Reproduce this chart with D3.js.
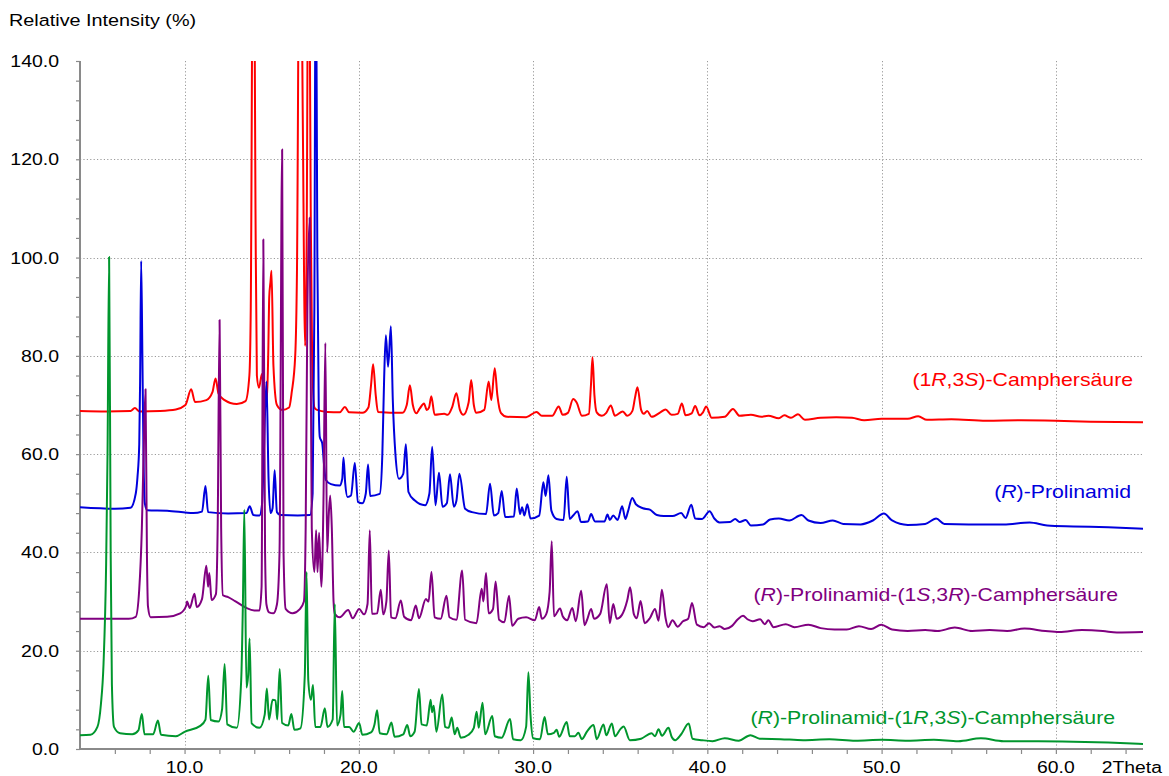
<!DOCTYPE html>
<html>
<head>
<meta charset="utf-8">
<script src="https://cdn.jsdelivr.net/npm/d3@7"></script>
<style>
  body { margin: 0; background: #fff; }
  svg { display: block; font-family: Arial, "Liberation Sans", sans-serif; }
</style>
</head>
<body>
<svg id="chart" width="1169" height="776"></svg>
<script>
// Axis ticks
const xMajorTicks = [10, 20, 30, 40, 50, 60];
const yMajorTicks = [0, 20, 40, 60, 80, 100, 120, 140];
const yGridTicks = [20, 40, 60, 80, 100, 120];

// Powder diffraction patterns, [2Theta, relative intensity %]
const camphorAcid = [
  [4.0, 68.8], [5.5, 68.7], [6.9, 68.8], [7.15, 69.4], [7.4, 68.7], [8.6, 68.8], [9.5, 69.1],
  [10.05, 70.0], [10.38, 73.2], [10.6, 70.6], [11.25, 71.0], [11.6, 72.6], [11.78, 75.4],
  [11.95, 72.3], [12.25, 71.1], [13.0, 70.2], [13.5, 70.8], [13.72, 76], [13.8, 90],
  [13.95, 190], [14.07, 110], [14.15, 76], [14.27, 73.5], [14.44, 76.3], [14.6, 71.5],
  [14.72, 70.6], [14.8, 80], [14.86, 92], [14.93, 95], [14.99, 97.3], [15.1, 78], [15.3, 70],
  [15.6, 69.0], [16.0, 69.5], [16.15, 72.6], [16.35, 80], [16.45, 97], [16.62, 190],
  [16.78, 130], [16.92, 82], [17.0, 100], [17.12, 180], [17.24, 110], [17.32, 80],
  [17.45, 69.5], [17.6, 69.0], [18.2, 68.6], [18.9, 68.5], [19.2, 69.6], [19.45, 68.5],
  [20.2, 68.4], [20.55, 69.5], [20.7, 74], [20.82, 78.3], [20.97, 72], [21.1, 68.6],
  [22.5, 68.4], [22.75, 70], [22.93, 74.0], [23.1, 70], [23.3, 68.3], [23.5, 69.3],
  [23.74, 70.3], [23.9, 69.0], [24.03, 69.5], [24.16, 71.8], [24.35, 68.0], [24.9, 68.2],
  [25.1, 68.0], [25.35, 69.5], [25.6, 72.4], [25.8, 69.0], [26.0, 68.0], [26.3, 70.5],
  [26.45, 75.1], [26.6, 70.0], [26.75, 68.4], [27.2, 69.0], [27.45, 74.8], [27.6, 71.0],
  [27.8, 77.5], [27.95, 72.0], [28.15, 68.4], [28.5, 67.6], [29.6, 67.5], [30.2, 68.6],
  [30.5, 67.8], [31.1, 67.8], [31.47, 69.7], [31.7, 68.0], [32.0, 68.4], [32.3, 71.2],
  [32.5, 70.5], [32.8, 67.8], [33.2, 68.2], [33.32, 74], [33.41, 79.7], [33.52, 72],
  [33.65, 68.5], [33.95, 67.8], [34.2, 68.4], [34.46, 69.9], [34.7, 67.8], [35.15, 68.7],
  [35.4, 67.8], [35.7, 68.8], [35.85, 71.5], [35.99, 73.6], [36.2, 69.0], [36.35, 68.2],
  [36.55, 68.8], [36.8, 67.6], [37.3, 68.5], [37.6, 69.1], [37.95, 68.0], [38.3, 68.2],
  [38.54, 70.3], [38.75, 67.9], [39.1, 68.3], [39.3, 69.8], [39.55, 67.9], [39.75, 68.5],
  [39.93, 69.7], [40.25, 67.4], [41.0, 67.6], [41.47, 69.2], [41.85, 67.8], [42.5, 68.0],
  [43.1, 67.6], [43.5, 67.8], [44.1, 67.3], [44.42, 67.9], [44.8, 67.4], [45.2, 68.1],
  [45.6, 67.0], [46.5, 67.4], [47.4, 67.5], [48.3, 67.4], [49.0, 66.9], [50.0, 67.2],
  [51.5, 67.2], [52.1, 67.7], [52.6, 67.0], [54.0, 67.1], [56.0, 66.8], [58.0, 66.9],
  [60.0, 66.8], [62.0, 66.6], [65.0, 66.5]
];

const prolinamide = [
  [4.0, 49.2], [6.0, 48.9], [6.9, 49.1], [7.2, 52], [7.3, 55.4], [7.4, 62], [7.45, 75],
  [7.51, 99.3], [7.58, 80], [7.65, 58], [7.72, 50], [7.85, 48.6], [9.0, 48.5], [10.5, 48.0],
  [11.0, 48.3], [11.2, 53.5], [11.35, 48.2], [12.5, 47.9], [13.55, 48.0], [13.74, 49.4],
  [13.95, 47.6], [14.3, 47.5], [14.45, 50], [14.55, 60], [14.7, 74.8], [14.82, 55],
  [14.93, 48.0], [15.05, 49], [15.17, 56.7], [15.3, 48.2], [15.5, 47.6], [16.5, 47.5],
  [17.2, 47.6], [17.35, 52], [17.45, 90], [17.53, 170], [17.62, 100], [17.7, 70],
  [17.76, 63.5], [17.9, 62.2], [18.0, 58], [18.1, 54.8], [18.4, 53.9], [18.9, 53.6],
  [19.05, 55], [19.12, 59.3], [19.22, 54], [19.35, 51.3], [19.55, 51.6], [19.77, 58.2],
  [19.95, 50.3], [20.2, 50.0], [20.4, 52], [20.53, 57.9], [20.65, 51.5], [21.2, 51.9],
  [21.35, 60], [21.45, 75], [21.55, 84.2], [21.68, 77.8], [21.84, 86.0], [21.95, 71],
  [22.1, 60], [22.3, 55.0], [22.55, 56], [22.7, 62.0], [22.85, 52.3], [23.2, 50.6],
  [23.8, 49.6], [24.05, 52], [24.21, 61.5], [24.4, 49.6], [24.6, 56.2], [24.8, 49.3],
  [25.05, 50], [25.23, 55.9], [25.45, 49.3], [25.6, 50.5], [25.77, 56.0], [26.1, 48.9],
  [26.5, 48.2], [27.3, 47.8], [27.53, 54.0], [27.75, 47.5], [28.0, 48.0], [28.2, 52.5],
  [28.4, 47.2], [28.9, 47.3], [29.06, 53.0], [29.25, 47.8], [29.37, 49.2], [29.5, 47.5],
  [29.67, 49.8], [29.85, 46.9], [30.35, 47.5], [30.59, 54.3], [30.72, 51.5], [30.88, 55.7],
  [31.05, 48.5], [31.35, 46.8], [31.75, 46.6], [31.93, 55.4], [32.1, 46.8], [32.3, 47.5],
  [32.55, 48.4], [32.75, 46.2], [33.15, 46.3], [33.33, 47.8], [33.55, 46.3], [34.1, 46.3],
  [34.27, 47.7], [34.4, 46.6], [34.6, 47.5], [34.85, 46.6], [35.11, 49.4], [35.3, 46.8],
  [35.45, 48.4], [35.69, 51.1], [35.9, 49.8], [36.3, 49.0], [36.7, 48.7], [37.1, 47.6],
  [37.5, 47.4], [38.0, 47.4], [38.5, 48.0], [38.75, 47.0], [39.08, 49.7], [39.3, 46.9],
  [39.7, 46.8], [40.13, 48.4], [40.4, 46.9], [40.7, 46.1], [41.3, 46.2], [41.6, 46.8],
  [41.85, 46.2], [42.2, 46.6], [42.5, 45.5], [43.2, 45.7], [43.6, 46.7], [44.1, 46.9],
  [44.7, 46.5], [45.4, 47.6], [45.8, 46.5], [46.5, 46.0], [47.2, 46.5], [47.8, 45.8],
  [48.8, 45.7], [49.5, 46.5], [50.13, 47.9], [50.6, 46.5], [51.5, 45.6], [52.5, 45.8],
  [53.13, 46.9], [53.6, 45.8], [55.0, 45.7], [57.0, 45.7], [58.5, 46.1], [59.5, 45.5],
  [61.0, 45.3], [63.0, 45.1], [65.0, 44.8]
];

const saltSR = [
  [4.0, 26.5], [6.8, 26.5], [7.2, 26.9], [7.4, 32.5], [7.55, 45], [7.65, 60], [7.76, 73.2],
  [7.84, 40], [7.9, 29], [8.05, 26.8], [9.0, 26.9], [9.75, 27.6], [10.1, 29.2], [10.14, 30.0],
  [10.3, 28.7], [10.57, 31.6], [10.7, 28.9], [11.0, 30.5], [11.25, 37.3], [11.35, 33],
  [11.42, 35.8], [11.55, 30.3], [11.8, 31.5], [11.9, 45], [12.01, 87.3], [12.1, 45],
  [12.2, 31.3], [12.5, 30.9], [12.9, 30.1], [13.5, 28.8], [14.0, 28.2], [14.3, 28.2],
  [14.42, 33], [14.52, 103.7], [14.62, 40], [14.7, 29.4], [14.85, 27.8], [15.1, 27.6],
  [15.3, 29.4], [15.45, 40], [15.6, 122], [15.68, 40], [15.8, 28.5], [16.2, 27.6],
  [16.6, 28.4], [16.85, 30], [16.95, 45], [17.05, 90], [17.18, 108.1], [17.3, 45],
  [17.45, 36], [17.55, 44.5], [17.63, 36], [17.72, 44], [17.85, 33], [17.97, 50],
  [18.08, 82.6], [18.18, 40], [18.28, 48], [18.36, 51.6], [18.45, 45], [18.55, 30],
  [18.62, 27.5], [18.9, 26.8], [19.39, 28.3], [19.65, 26.6], [20.02, 28.5], [20.3, 27.4],
  [20.5, 29.5], [20.63, 44.5], [20.75, 27.5], [21.05, 27.6], [21.26, 32.4], [21.4, 27.4],
  [21.58, 30], [21.72, 40.4], [21.85, 26.8], [22.1, 26.6], [22.41, 30.2], [22.6, 26.9],
  [23.0, 26.2], [23.27, 29.2], [23.45, 26.6], [23.85, 30.5], [24.0, 30], [24.17, 36.0],
  [24.35, 26.8], [24.7, 26.5], [25.03, 31.2], [25.2, 26.8], [25.6, 26.3], [25.93, 36.3],
  [26.1, 26.3], [26.75, 25.6], [27.05, 32.6], [27.15, 30], [27.3, 35.8], [27.45, 27.6],
  [27.7, 28.5], [27.85, 34.1], [28.05, 26.3], [28.35, 25.8], [28.62, 31.2], [28.8, 25.1],
  [29.15, 26.5], [29.6, 26.8], [30.1, 26.2], [30.35, 28.9], [30.5, 26.5], [30.75, 27.4],
  [30.95, 32], [31.07, 42.3], [31.2, 27], [31.55, 28.6], [31.7, 27], [31.95, 26.2],
  [32.25, 28.7], [32.45, 26.0], [32.76, 32.2], [32.95, 25.2], [33.1, 26.3], [33.33, 28.5],
  [33.5, 26.5], [33.85, 27.5], [34.23, 33.5], [34.4, 25.6], [34.6, 29.5], [34.8, 26.5],
  [35.1, 27.3], [35.4, 30.2], [35.57, 32.9], [35.78, 27.5], [35.95, 26.6], [36.17, 30.1],
  [36.4, 25.6], [36.7, 26.6], [37.0, 28.5], [37.2, 26.1], [37.39, 32.4], [37.6, 26.7],
  [37.75, 24.8], [38.0, 26.2], [38.3, 24.9], [38.6, 26.0], [38.9, 26.5], [39.12, 29.7],
  [39.4, 25.3], [39.8, 24.8], [40.1, 25.6], [40.4, 24.7], [40.7, 25.0], [41.0, 24.4],
  [41.4, 25.0], [41.75, 26.4], [42.05, 27.1], [42.3, 26.4], [42.6, 26.0], [43.03, 26.4],
  [43.3, 25.4], [43.5, 26.2], [43.8, 24.8], [44.5, 25.4], [45.0, 24.8], [45.8, 25.3],
  [46.5, 24.6], [47.3, 24.3], [48.0, 24.3], [48.7, 25.0], [49.4, 24.4], [49.98, 25.3],
  [50.6, 24.3], [51.5, 24.0], [52.5, 24.2], [53.2, 24.0], [54.2, 24.7], [55.2, 24.0],
  [56.2, 24.2], [57.2, 24.0], [58.2, 24.5], [59.4, 24.0], [60.2, 23.8], [61.5, 24.2],
  [62.7, 24.0], [63.5, 23.7], [65.0, 23.8]
];

const saltRS = [
  [4.0, 2.8], [4.6, 2.9], [5.0, 4.5], [5.2, 9.1], [5.35, 17.3], [5.5, 37.7], [5.58, 60],
  [5.67, 100.1], [5.76, 40], [5.83, 13.2], [5.95, 4.5], [6.3, 3.2], [7.0, 3.0], [7.35, 3.8],
  [7.55, 7.1], [7.7, 3.0], [8.2, 3.0], [8.47, 5.8], [8.65, 2.9], [9.5, 2.6], [10.0, 3.5],
  [10.9, 4.7], [11.2, 6.0], [11.36, 14.9], [11.5, 5.9], [11.95, 5.6], [12.15, 8], [12.3, 17.3],
  [12.45, 5], [13.0, 4.3], [13.25, 14], [13.35, 30], [13.43, 48.7], [13.55, 12.5],
  [13.65, 15], [13.73, 22.5], [13.85, 5.2], [14.3, 4.3], [14.6, 7], [14.72, 12.3],
  [14.85, 6], [15.05, 10], [15.22, 9.9], [15.32, 6], [15.46, 16.3], [15.6, 5.3],
  [15.95, 4.8], [16.13, 7.1], [16.3, 3.9], [16.65, 4.2], [16.9, 15], [17.0, 36],
  [17.1, 14], [17.25, 10], [17.37, 13], [17.5, 4.5], [17.8, 4.5], [18.05, 8.3], [18.2, 4.5],
  [18.5, 6], [18.62, 29.5], [18.75, 4.8], [18.95, 7], [19.05, 11.8], [19.15, 4.5],
  [19.45, 4.5], [19.7, 3.5], [20.02, 5.3], [20.2, 2.9], [20.7, 3.4], [20.9, 5], [21.05, 7.9],
  [21.2, 3.2], [21.6, 3.0], [21.87, 5.4], [22.05, 2.5], [22.55, 3.0], [22.78, 4.9],
  [22.95, 2.6], [23.2, 3.5], [23.45, 12.2], [23.6, 5], [23.9, 4.8], [24.12, 10.0], [24.2, 7.5],
  [24.3, 8.8], [24.45, 3.5], [24.79, 11.1], [24.95, 4.5], [25.15, 4.3], [25.33, 6.4],
  [25.5, 3.0], [25.65, 4.3], [25.85, 2.3], [26.3, 2.9], [26.6, 4.3], [26.76, 7.6],
  [26.88, 4.3], [27.1, 9.4], [27.25, 3.0], [27.66, 6.7], [27.8, 2.6], [28.2, 2.3],
  [28.68, 6.1], [28.85, 2.0], [29.3, 1.8], [29.6, 4.5], [29.73, 15.6], [29.85, 7],
  [30.0, 2.2], [30.4, 2.0], [30.66, 6.5], [30.85, 3.0], [31.2, 3.3], [31.35, 3.9],
  [31.5, 2.5], [31.93, 5.5], [32.1, 2.6], [32.4, 2.6], [32.6, 3.3], [32.8, 2.0], [33.1, 3.6],
  [33.47, 4.9], [33.65, 2.0], [34.04, 5.0], [34.2, 2.8], [34.52, 5.2], [34.7, 2.6],
  [35.0, 4], [35.2, 4.6], [35.55, 1.8], [36.2, 2.1], [36.8, 3.2], [37.0, 2.6], [37.2, 4.0],
  [37.4, 2.7], [37.77, 4.3], [37.95, 2.5], [38.15, 1.8], [38.5, 3.0], [38.93, 5.2],
  [39.15, 2.1], [39.7, 1.8], [40.3, 1.6], [41.0, 2.2], [41.8, 1.7], [42.47, 2.8], [43.0, 2.1],
  [44.2, 2.0], [45.5, 1.8], [47.0, 2.0], [48.5, 1.7], [50.0, 1.9], [51.5, 1.7], [53.0, 1.9],
  [54.4, 1.6], [55.7, 2.2], [57.0, 1.6], [59.0, 1.6], [61.0, 1.5], [63.0, 1.3], [65.0, 1.0]
];

// Series labels: [text, italic]
const labelCamphorAcid = [["(1", false], ["R", true], [",3", false], ["S", true], [")-Camphersäure", false]];
const labelProlinamide = [["(", false], ["R", true], [")-Prolinamid", false]];
const labelSaltSR = [["(", false], ["R", true], [")-Prolinamid-(1", false], ["S", true], [",3", false], ["R", true], [")-Camphersäure", false]];
const labelSaltRS = [["(", false], ["R", true], [")-Prolinamid-(1", false], ["R", true], [",3", false], ["S", true], [")-Camphersäure", false]];

const series = [
  { data: camphorAcid, color: "#ff0000", label: labelCamphorAcid, lx: 1133, ly: 386 },
  { data: prolinamide, color: "#0000dd", label: labelProlinamide, lx: 1131, ly: 498 },
  { data: saltSR, color: "#800080", label: labelSaltSR, lx: 1118, ly: 601 },
  { data: saltRS, color: "#00962d", label: labelSaltRS, lx: 1115, ly: 724 }
];

const svg = d3.select("#chart");
const margin = { left: 80, right: 1143, top: 61, bottom: 749 };
const textStretch = 1.18;

const x = d3.scaleLinear().domain([4, 65]).range([margin.left, margin.right]);
const y = d3.scaleLinear().domain([0, 140]).range([margin.bottom, margin.top]);

svg.append("defs").append("clipPath").attr("id", "plotClip")
  .append("rect")
  .attr("x", margin.left).attr("y", margin.top)
  .attr("width", margin.right - margin.left).attr("height", margin.bottom - margin.top);

// Dotted grid
const grid = svg.append("g").attr("stroke", "#9a9a9a").attr("stroke-width", 1)
  .attr("stroke-dasharray", "1.2,2.2").attr("fill", "none");
grid.selectAll("line.v").data(xMajorTicks).join("line")
  .attr("x1", d => Math.round(x(d)) + 0.5).attr("x2", d => Math.round(x(d)) + 0.5)
  .attr("y1", margin.top).attr("y2", margin.bottom);
grid.selectAll("line.h").data(yGridTicks).join("line")
  .attr("x1", margin.left).attr("x2", margin.right)
  .attr("y1", d => Math.round(y(d)) + 0.5).attr("y2", d => Math.round(y(d)) + 0.5);

// Axes
const xAxis = d3.axisBottom(x).tickValues(d3.range(6, 65, 2)).tickSize(5).tickFormat("");
const yAxis = d3.axisLeft(y).tickValues(d3.range(0, 141, 4)).tickSize(4).tickFormat("");

const gx = svg.append("g").attr("transform", `translate(0,${margin.bottom})`).call(xAxis);
const gy = svg.append("g").attr("transform", `translate(${margin.left},0)`).call(yAxis);
[gx, gy].forEach(g => {
  g.select(".domain").attr("stroke", "#8a8a8a").attr("stroke-width", 2);
  g.selectAll(".tick line").attr("stroke", "#8a8a8a").attr("stroke-width", 1.2);
});
gx.select(".domain").attr("d", `M${margin.left},0H${margin.right}`);
gy.select(".domain").attr("d", `M0,${margin.bottom}V${margin.top}`);

// Horizontally stretched text helper
function stretchedText(g, xPos, yPos, anchor, size) {
  return g.append("text")
    .attr("transform", `translate(${xPos},${yPos}) scale(${textStretch},1)`)
    .attr("text-anchor", anchor)
    .attr("font-size", size);
}

const labels = svg.append("g").attr("fill", "#000");
xMajorTicks.forEach(t => {
  stretchedText(labels, x(t), 773, "middle", 16.4).text(d3.format(".1f")(t));
});
stretchedText(labels, 1162, 773, "end", 16.4).text("2Theta");
yMajorTicks.forEach(t => {
  stretchedText(labels, 59, y(t) + 6, "end", 16.5).text(d3.format(".1f")(t));
});
stretchedText(labels, 9, 26, "start", 16.8).text("Relative Intensity (%)");

// Diffraction lines
const line = d3.line().x(d => x(d[0])).y(d => y(d[1])).curve(d3.curveMonotoneX);
const plot = svg.append("g").attr("clip-path", "url(#plotClip)");
series.forEach(s => {
  plot.append("path")
    .datum(s.data)
    .attr("d", line)
    .attr("fill", "none")
    .attr("stroke", s.color)
    .attr("stroke-width", 2)
    .attr("stroke-linejoin", "round");
});

// Series names
series.forEach(s => {
  const t = stretchedText(svg, s.lx, s.ly, "end", 18).attr("fill", s.color);
  s.label.forEach(([part, italic]) => {
    t.append("tspan").attr("font-style", italic ? "italic" : "normal").text(part);
  });
});
</script>
</body>
</html>
